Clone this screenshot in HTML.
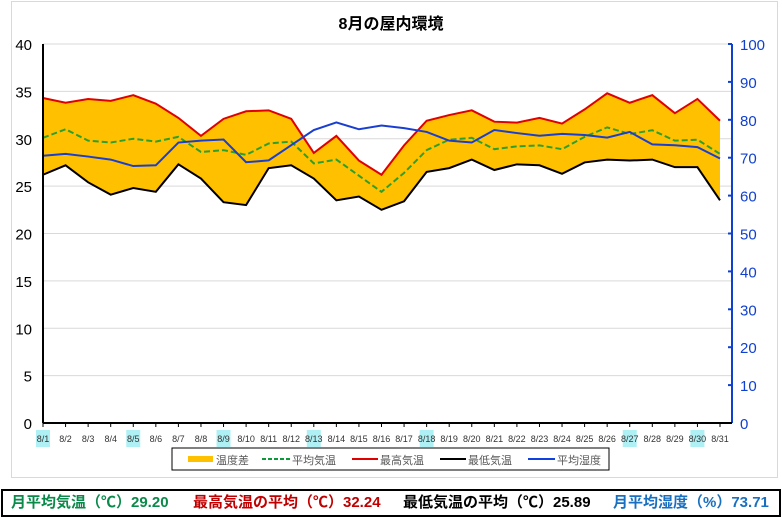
<!DOCTYPE html>
<html><head><meta charset="utf-8"><style>
body{margin:0;width:782px;height:517px;background:#fff;font-family:"Liberation Sans","Noto Sans CJK JP",sans-serif;overflow:hidden}
#footer{position:absolute;left:1px;top:489px;width:776px;height:24px;border:2px solid #000;font-size:15px;font-weight:bold;line-height:24px}
#footer span{position:absolute;top:0}
</style></head><body>
<svg id="chart" width="782" height="517" style="position:absolute;left:0;top:0" font-family="Liberation Sans, Noto Sans CJK JP, sans-serif">
<rect x="11.5" y="1.5" width="766" height="476" fill="#fff" stroke="#d9d9d9"/>
<text x="391" y="29" text-anchor="middle" font-size="16" font-weight="bold">8月の屋内環境</text>
<g id="grid"></g><g id="marks"></g><g id="axes"></g>
<g>
<rect x="172" y="448" width="437" height="22" fill="#fff" stroke="#000"/>
<rect x="188" y="456" width="25" height="6" fill="#ffc000"/><text x="216" y="464" font-size="11" fill="#595959">温度差</text>
<line x1="262" y1="459" x2="290" y2="459" stroke="#0a9a3a" stroke-width="2" stroke-dasharray="4,2"/><text x="292" y="464" font-size="11" fill="#595959">平均気温</text>
<line x1="352" y1="459" x2="378" y2="459" stroke="#e00000" stroke-width="2"/><text x="380" y="464" font-size="11" fill="#595959">最高気温</text>
<line x1="440" y1="459" x2="466" y2="459" stroke="#000" stroke-width="2"/><text x="468" y="464" font-size="11" fill="#595959">最低気温</text>
<line x1="528" y1="459" x2="555" y2="459" stroke="#1040e0" stroke-width="2"/><text x="557" y="464" font-size="11" fill="#595959">平均湿度</text>
</g>
</svg>
<div id="footer">
<span style="left:8px;color:#0a8a4a">月平均気温（℃）29.20</span>
<span style="left:190px;color:#c00000">最高気温の平均（℃）32.24</span>
<span style="left:400px;color:#000">最低気温の平均（℃）25.89</span>
<span style="left:610px;color:#1a70c0">月平均湿度（%）73.71</span>
</div>
<script>
const days=["8/1","8/2","8/3","8/4","8/5","8/6","8/7","8/8","8/9","8/10","8/11","8/12","8/13","8/14","8/15","8/16","8/17","8/18","8/19","8/20","8/21","8/22","8/23","8/24","8/25","8/26","8/27","8/28","8/29","8/30","8/31"];
const highlighted=["8/1","8/5","8/9","8/13","8/18","8/27","8/30"];
const maxTemp=[34.3,33.8,34.2,34.0,34.6,33.7,32.2,30.3,32.1,32.9,33.0,32.1,28.5,30.3,27.7,26.2,29.3,31.9,32.5,33.0,31.8,31.7,32.2,31.6,33.1,34.8,33.8,34.6,32.7,34.2,31.9];
const minTemp=[26.2,27.2,25.4,24.1,24.8,24.4,27.3,25.8,23.3,23.0,26.9,27.2,25.8,23.5,23.9,22.5,23.4,26.5,26.9,27.8,26.7,27.3,27.2,26.3,27.5,27.8,27.7,27.8,27.0,27.0,23.5];
const avgTemp=[30.1,31.0,29.8,29.6,30.0,29.7,30.2,28.6,28.8,28.3,29.5,29.7,27.4,27.8,26.1,24.4,26.4,28.8,29.9,30.1,28.9,29.2,29.3,28.9,30.2,31.2,30.5,30.9,29.8,29.9,28.4];
const humidity=[70.5,71,70.3,69.5,67.8,68,74,74.5,74.8,68.8,69.3,73.3,77.3,79.3,77.5,78.5,77.8,76.8,74.5,74,77.3,76.5,75.8,76.3,76,75.3,76.8,73.5,73.3,72.8,69.8];
const leftTicks=[0,5,10,15,20,25,30,35,40];
const rightTicks=[0,10,20,30,40,50,60,70,80,90,100];
const NS="http://www.w3.org/2000/svg";
const X0=43,X1=720,PL=43,PR=732,YT=44,YB=423;
const xs=i=>X0+(X1-X0)*i/(days.length-1);
const yl=v=>YB-(YB-YT)*v/40;
const yr=v=>YB-(YB-YT)*v/100;
function mk(tag,attrs,parent){const e=document.createElementNS(NS,tag);for(const k in attrs)e.setAttribute(k,attrs[k]);document.getElementById(parent).appendChild(e);return e;}
leftTicks.forEach(t=>{
 if(t>0){const g=mk('line',{x1:PL,x2:PR,y1:yl(t),y2:yl(t),stroke:'#d9d9d9'},'grid');
 
 }
 const tx=mk('text',{x:32,y:yl(t)+6,'text-anchor':'end','font-size':15},'axes');tx.textContent=t;
 
 
});
rightTicks.forEach(t=>{
 const tx=mk('text',{x:740,y:yr(t)+6,'font-size':15,fill:'#1040d0'},'axes');tx.textContent=t;
 
 
 const tk=mk('line',{x1:PR-4,x2:PR,y1:yr(t),y2:yr(t),stroke:'#1040d0','stroke-width':2},'axes');
 
 
});
// band
let d='M'+maxTemp.map((v,i)=>xs(i)+','+yl(v)).join(' L')+' L'+minTemp.map((v,i)=>[xs(i),yl(v)]).reverse().map(p=>p.join(',')).join(' L')+'Z';
const band=mk('path',{d:d,fill:'#ffc000'},'marks');


function line(arr,f,col,name,dash){const p=mk('polyline',{points:arr.map((v,i)=>xs(i)+','+f(v)).join(' '),fill:'none',stroke:col,'stroke-width':2,'stroke-dasharray':dash||'none'},'marks');
 
 }
line(maxTemp,yl,'#e00000','max-temp-line');
line(minTemp,yl,'#000','min-temp-line');
line(avgTemp,yl,'#2ca02c','avg-temp-line','6,3');
line(humidity,yr,'#1a3ed0','humidity-line');
// axes
const la=mk('line',{x1:PL,x2:PL,y1:YT,y2:YB,stroke:'#000','stroke-width':2},'axes');


const ra=mk('line',{x1:PR,x2:PR,y1:YT,y2:YB,stroke:'#1040d0','stroke-width':2},'axes');


const xa=mk('line',{x1:PL,x2:PR,y1:YB,y2:YB,stroke:'#000','stroke-width':2},'axes');


days.forEach((dd,i)=>{
 const tk=mk('line',{x1:xs(i),x2:xs(i),y1:YB,y2:YB+4,stroke:'#000'},'axes');
 
 
 if(highlighted.includes(dd)){const r=mk('rect',{x:xs(i)-7,y:430,width:14,height:17,fill:'#aef0f4'},'axes');
  
  }
 const t=mk('text',{x:xs(i),y:442,'text-anchor':'middle','font-size':9,fill:'#333'},'axes');t.textContent=dd;
 
 
});
</script>
</body></html>
